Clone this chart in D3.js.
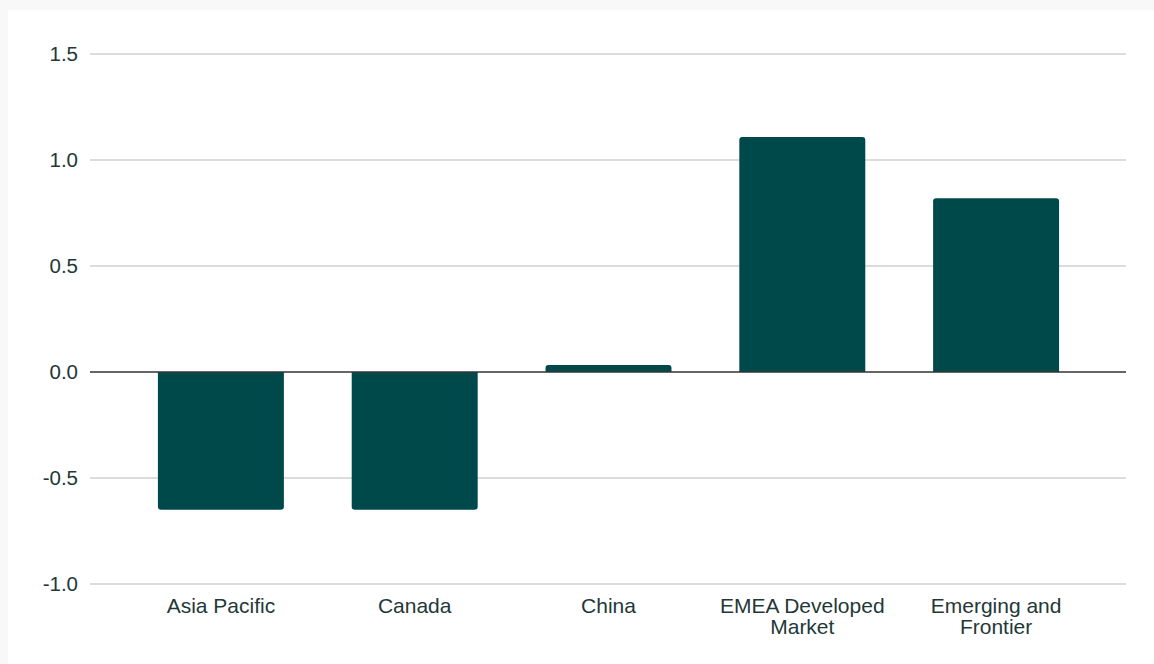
<!DOCTYPE html>
<html>
<head>
<meta charset="utf-8">
<script src="https://cdn.jsdelivr.net/npm/d3@7/dist/d3.min.js"></script>
<style>
  html, body { margin: 0; padding: 0; background: #f8f8f8; }
  svg { display: block; font-family: "Liberation Sans", Arial, sans-serif; }
</style>
</head>
<body>
<svg id="chart" width="1154" height="664"></svg>
<script>
const categories = ['Asia Pacific', 'Canada', 'China', 'EMEA Developed Market', 'Emerging and Frontier'];
const values = [-0.65, -0.65, 0.033, 1.108, 0.82];
const yTicks = [-1.0, -0.5, 0.0, 0.5, 1.0, 1.5];

const width = 1154, height = 664;
const margin = { top: 54, right: 28, bottom: 80, left: 90 };
const textColor = '#1f3838';
const barColor = '#00494b';

const svg = d3.select('#chart');

// white card
svg.append('rect')
  .attr('x', 8).attr('y', 10)
  .attr('width', width - 8).attr('height', height - 10)
  .attr('fill', '#fff');

const y = d3.scaleLinear().domain([-1, 1.5]).range([height - margin.bottom, margin.top]);
const x = d3.scaleBand()
  .domain(categories)
  .range([margin.left + 34, width - margin.right - 33])
  .paddingInner(0.35)
  .paddingOuter(0.175);

// gridlines
svg.append('g')
  .selectAll('line')
  .data(yTicks.filter(d => d !== 0))
  .enter()
  .append('line')
  .attr('x1', margin.left).attr('x2', width - margin.right)
  .attr('y1', d => y(d)).attr('y2', d => y(d))
  .attr('stroke', '#d0d0d0')
  .attr('stroke-width', 1.5);

// y labels
svg.append('g')
  .selectAll('text')
  .data(yTicks)
  .enter()
  .append('text')
  .attr('x', margin.left - 12)
  .attr('y', d => y(d))
  .attr('dy', '0.35em')
  .attr('text-anchor', 'end')
  .attr('fill', textColor)
  .style('font-size', '20.5px')
  .text(d => d.toFixed(1));

// bars with rounded far end
const r = 3;
function barPath(d, i) {
  const x0 = x(categories[i]), w = x.bandwidth();
  const y0 = y(0), y1 = y(d);
  const s = y1 < y0 ? 1 : -1; // direction toward zero
  const rr = Math.min(r, Math.abs(y0 - y1) / 2);
  return `M${x0},${y0}` +
    `L${x0},${y1 + s * rr}` +
    `Q${x0},${y1} ${x0 + rr},${y1}` +
    `L${x0 + w - rr},${y1}` +
    `Q${x0 + w},${y1} ${x0 + w},${y1 + s * rr}` +
    `L${x0 + w},${y0}Z`;
}
svg.append('g')
  .selectAll('path')
  .data(values)
  .enter()
  .append('path')
  .attr('d', (d, i) => barPath(d, i))
  .attr('fill', barColor);

// zero line
svg.append('line')
  .attr('x1', margin.left).attr('x2', width - margin.right)
  .attr('y1', y(0)).attr('y2', y(0))
  .attr('stroke', '#333')
  .attr('stroke-width', 1.5);

// category labels
const splitLabel = {
  'EMEA Developed Market': ['EMEA Developed', 'Market'],
  'Emerging and Frontier': ['Emerging and', 'Frontier']
};
const lab = svg.append('g')
  .selectAll('text')
  .data(categories)
  .enter()
  .append('text')
  .attr('x', d => x(d) + x.bandwidth() / 2)
  .attr('y', y(-1) + 29)
  .attr('text-anchor', 'middle')
  .attr('fill', textColor)
  .style('font-size', '21px');
lab.each(function(d) {
  const lines = splitLabel[d] || [d];
  d3.select(this).selectAll('tspan')
    .data(lines)
    .enter()
    .append('tspan')
    .attr('x', x(d) + x.bandwidth() / 2)
    .attr('dy', (l, j) => j === 0 ? 0 : 21)
    .text(l => l);
});
</script>
</body>
</html>
